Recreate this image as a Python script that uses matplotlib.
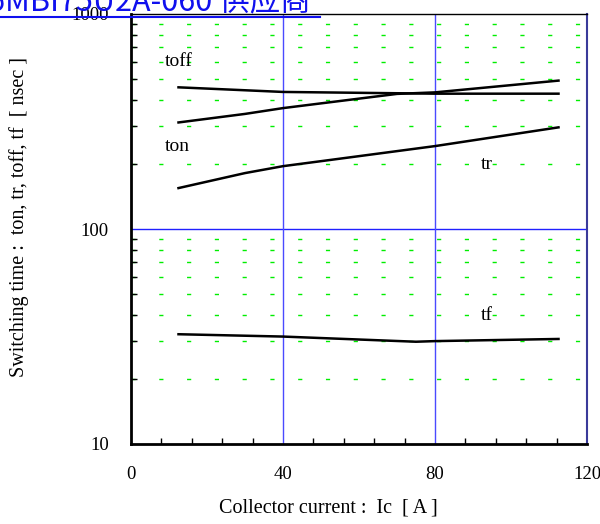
import matplotlib
matplotlib.use("Agg")
import matplotlib.pyplot as plt
import numpy as np

# values (Ic in A, times in nsec)
ic_toff = [12.5, 40, 80, 112.5]
toff = [456, 434, 426, 426]

ic_ton = [12.5, 30, 40, 70, 80, 112.5]
ton = [313, 343, 365, 425, 432, 490]

ic_tr = [12.5, 30, 40, 52, 80, 112.5]
tr = [155, 182, 196, 209, 243, 297]

ic_tf = [12.5, 40, 75, 80, 112.5]
tf = [32.4, 31.6, 29.9, 30.1, 30.8]

x_ticks = [0, 40, 80, 120]
y_ticks = [10, 100, 1000]
y_ticklabels = ["10", "100", "1000"]

W, H = 600, 524
fig = plt.figure(figsize=(W / 100, H / 100), dpi=100)
ax = fig.add_axes([131 / W, 1 - 444 / H, (587 - 131) / W, (444 - 14) / H])

serif = "Liberation Serif"

ax.set_yscale("log")
ax.set_xlim(0, 120)
ax.set_ylim(10, 1000)

# green dashed grid at minor log positions
minors = [m * d for d in (10, 100) for m in range(2, 10)]
for v in minors:
    ax.axhline(v, color="#00ee00", lw=1.0, dashes=(3, 17), zorder=1)
ax.axhline(100, color="#2020ff", lw=1.0, zorder=2)
for v in (40, 80):
    ax.axvline(v, color="#4a4aff", lw=1.0, zorder=2)

for xs, ys in [(ic_toff, toff), (ic_ton, ton), (ic_tr, tr), (ic_tf, tf)]:
    ax.plot(xs, ys, color="black", lw=1.8, zorder=3)

lab = dict(fontsize=14, family=serif, va="center", ha="left")
ax.text(9, 600, "toff", **lab)
ax.text(9, 243, "ton", **lab)
ax.text(92, 200, "tr", **lab)
ax.text(92, 39.4, "tf", **lab)

ax.set_xticks(x_ticks)
ax.set_xticks(np.arange(0, 121, 8), minor=True)
ax.set_xticklabels([str(t) for t in x_ticks], fontsize=13.5, family=serif)
ax.set_yticks(y_ticks)
ax.set_yticklabels(y_ticklabels, fontsize=13.5, family=serif)
ax.set_yticks(minors, minor=True)
ax.yaxis.set_minor_formatter(matplotlib.ticker.NullFormatter())
ax.tick_params(which="major", direction="in", length=0)
ax.tick_params(axis="x", which="major", pad=16)
ax.tick_params(axis="y", which="major", pad=16)
ax.tick_params(which="minor", direction="in", length=4, width=1)

ax.spines["left"].set_linewidth(2)
ax.spines["bottom"].set_linewidth(2)
ax.spines["top"].set_linewidth(1)
ax.spines["right"].set_color("#3a3a9a")
ax.spines["right"].set_linewidth(1.5)

ax.set_xlabel("Collector current :  Ic  [ A ]", fontsize=14.5, family=serif, va="center")
ax.xaxis.set_label_coords((328 - 131) / 456, (444 - 508) / 430)
ax.set_ylabel("Switching time :  ton, tr, toff, tf  [ nsec ]", fontsize=14.5, family=serif, va="center")
ax.yaxis.set_label_coords((19 - 131) / 456, (444 - 217) / 430)

# clipped blue header link at the very top
fig.text(-12 / W, 1 - 10 / H, "6MBI75U2A-060 供应商", color="#1010ee", fontsize=22,
         family=["Noto Sans CJK SC", "DejaVu Sans"], va="baseline", ha="left")
fig.add_artist(plt.Line2D([0, 320 / W], [1 - 17 / H, 1 - 17 / H], color="#1010ee", lw=1.5))

fig.savefig("out.png", dpi=100)
